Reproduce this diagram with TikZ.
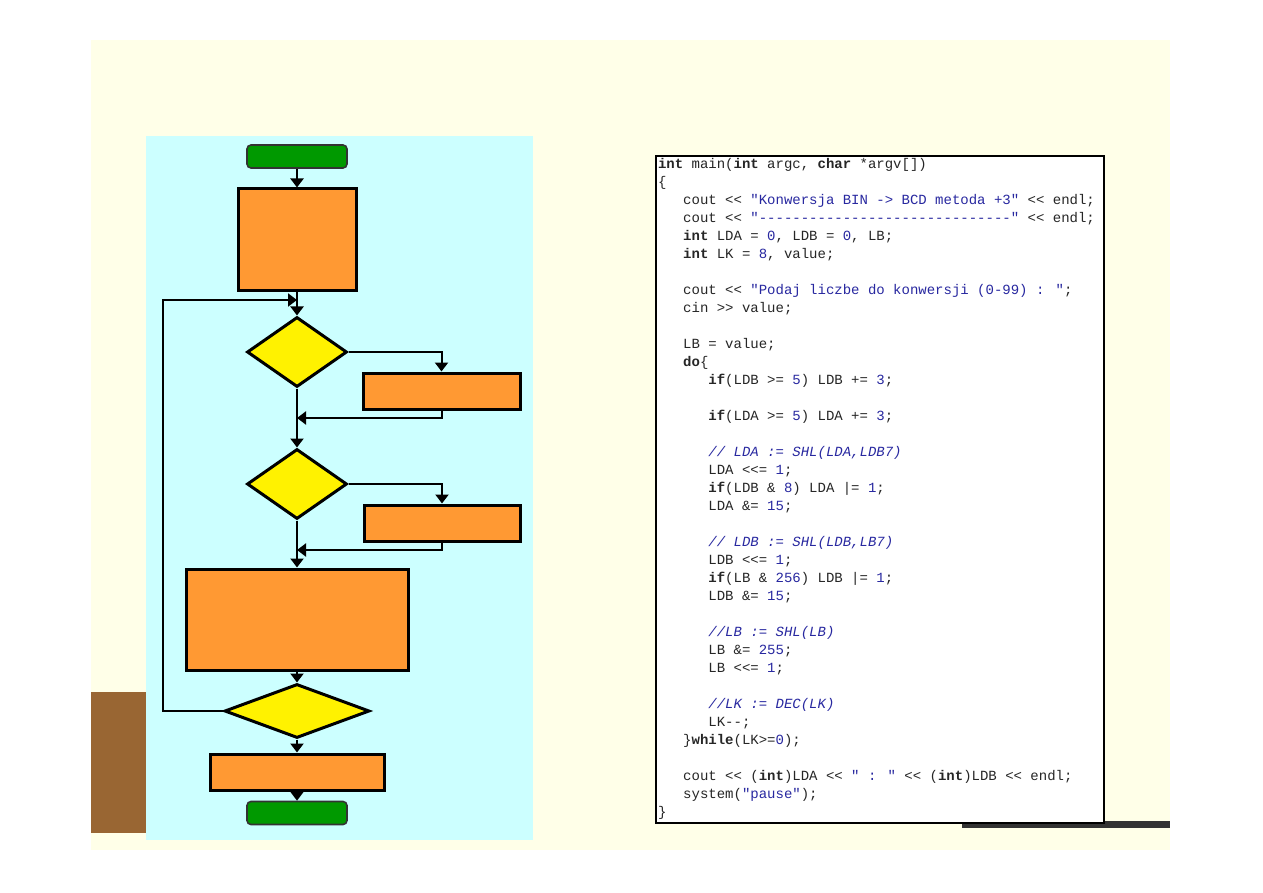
\documentclass[tikz,border=0pt]{standalone}
\usepackage{xcolor}
\usepackage{fontspec}
\usepackage{tikz}
\usetikzlibrary{shapes.geometric, arrows.meta}
\newfontfamily\codefont{Liberation Mono}
\definecolor{slidebg}{RGB}{255,255,232}
\definecolor{panelbg}{RGB}{204,255,255}
\definecolor{barbrown}{RGB}{153,102,51}
\definecolor{termgreen}{RGB}{0,153,0}
\definecolor{procorange}{RGB}{255,153,51}
\definecolor{codeblue}{RGB}{40,40,160}
\newcommand{\kw}[1]{\textbf{#1}}
\newcommand{\str}[1]{\textcolor{codeblue}{#1}}
\newcommand{\cmt}[1]{\textcolor{codeblue}{\itshape #1}}
\newcommand{\cind}{\hspace*{1.8em}}

\begin{document}
\begin{tikzpicture}[
    x=1pt, y=-1pt,
    ->, >={Triangle[width=13pt,length=9pt]}, line width=2pt,
    term/.style={rectangle, rounded corners=4pt, draw=black!80, fill=termgreen, line width=1.6pt, minimum width=100pt, minimum height=23pt, inner sep=0pt},
    proc/.style={rectangle, draw, fill=procorange, line width=3pt, inner sep=0pt},
    decision/.style={diamond, draw, fill=yellow, line width=3pt, inner sep=0pt}
]
    % slide background
    \useasboundingbox (0,0) rectangle (1263,893);
    \fill[white] (0,0) rectangle (1263,893);
    \fill[slidebg] (91,40) rectangle (1170,850);
    \fill[barbrown] (91,692) rectangle (146,833);
    \fill[panelbg] (146,136) rectangle (533,840);
    \fill[black!80] (962,821) rectangle (1170,828);

    % flowchart
    \node[term] (start) at (297,156.5) {};
    \node[proc, minimum width=118pt, minimum height=101pt] (init) at (297,239.5) {};
    \node[decision, minimum width=100pt, minimum height=70pt] (test1) at (297,352) {};
    \node[proc, minimum width=157pt, minimum height=36pt] (add1) at (441.5,391) {};
    \node[decision, minimum width=100pt, minimum height=70pt] (test2) at (297,484) {};
    \node[proc, minimum width=156pt, minimum height=36pt] (add2) at (442,523) {};
    \node[proc, minimum width=222pt, minimum height=101pt] (shift) at (297,619.5) {};
    \node[decision, minimum width=145pt, minimum height=54pt] (loop) at (297,711) {};
    \node[proc, minimum width=174pt, minimum height=36pt] (result) at (297,772) {};
    \node[term] (stop) at (297,813) {};

    \coordinate (join0) at (297,300);
    \coordinate (join1) at (297,418);
    \coordinate (join2) at (297,550);
    \coordinate (back) at (163,300);

    \draw (start) -- (init);
    \draw (init) -- (test1);
    \draw (test1.east) -| (add1.north);
    \draw (add1.south) |- (join1);
    \draw (test1) -- (test2);
    \draw (test2.east) -| (add2.north);
    \draw (add2.south) |- (join2);
    \draw (test2) -- (shift);
    \draw (shift) -- (loop);
    \draw (loop.west) -| (back) -- (join0);
    \draw (loop) -- (result);
    \draw (result) -- (stop);

    % source code
    \node[draw, fill=white, line width=2pt, minimum width=448pt, minimum height=667pt, anchor=north west, inner sep=0pt] (listing) at (655,155) {};
    \node[anchor=north west, inner sep=0pt, align=left, text=black!85,
          font=\codefont\fontsize{14}{18}\selectfont] (code) at (657,157) {%
\kw{int} main(\kw{int} argc, \kw{char} *argv[])\\
\{\\
\cind cout << \str{"Konwersja BIN -> BCD metoda +3"} << endl;\\
\cind cout << \str{"------------------------------"} << endl;\\
\cind \kw{int} LDA = \str{0}, LDB = \str{0}, LB;\\
\cind \kw{int} LK = \str{8}, value;\\
\mbox{}\\
\cind cout << \str{"Podaj liczbe do konwersji (0-99) : "};\\
\cind cin >> value;\\
\mbox{}\\
\cind LB = value;\\
\cind \kw{do}\{\\
\cind\cind \kw{if}(LDB >= \str{5}) LDB += \str{3};\\
\mbox{}\\
\cind\cind \kw{if}(LDA >= \str{5}) LDA += \str{3};\\
\mbox{}\\
\cind\cind \cmt{// LDA := SHL(LDA,LDB7)}\\
\cind\cind LDA <<= \str{1};\\
\cind\cind \kw{if}(LDB \& \str{8}) LDA |= \str{1};\\
\cind\cind LDA \&= \str{15};\\
\mbox{}\\
\cind\cind \cmt{// LDB := SHL(LDB,LB7)}\\
\cind\cind LDB <<= \str{1};\\
\cind\cind \kw{if}(LB \& \str{256}) LDB |= \str{1};\\
\cind\cind LDB \&= \str{15};\\
\mbox{}\\
\cind\cind \cmt{//LB := SHL(LB)}\\
\cind\cind LB \&= \str{255};\\
\cind\cind LB <<= \str{1};\\
\mbox{}\\
\cind\cind \cmt{//LK := DEC(LK)}\\
\cind\cind LK--;\\
\cind \}\kw{while}(LK>=\str{0});\\
\mbox{}\\
\cind cout << (\kw{int})LDA << \str{" : "} << (\kw{int})LDB << endl;\\
\cind system(\str{"pause"});\\
\}};
\end{tikzpicture}
\end{document}
